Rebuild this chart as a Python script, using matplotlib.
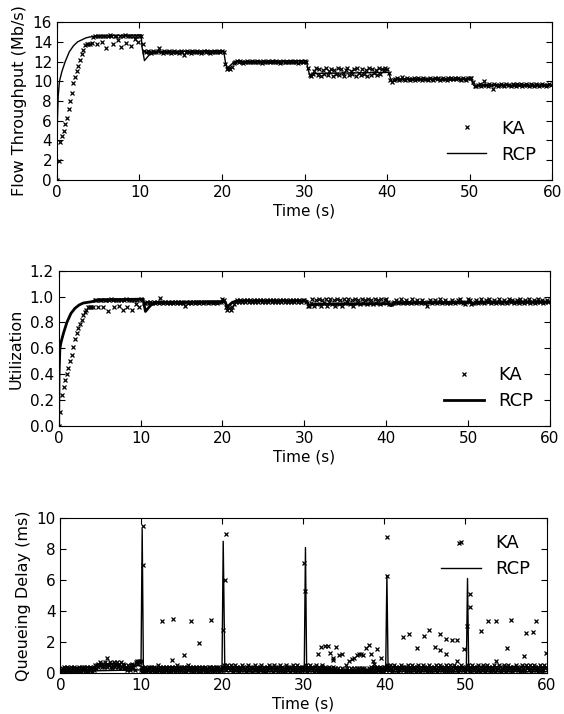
import numpy as np
import matplotlib
matplotlib.use("Agg")
import matplotlib.pyplot as plt

STEP = 0.2        # KA sampling interval for throughput / utilization (s)
DELAY_STEP = 0.1  # KA sampling interval for queueing delay (s)

# KA flow throughput, units of 0.1 Mb/s, one list per 10 s block
ka_thr_blocks = [
    [0, 19, 38, 45, 50, 57, 63, 72, 80, 88, 98, 104, 110, 116, 122, 128, 132, 137, 138, 138,
     138, 139, 145, 146, 138, 146, 146, 140, 146, 146, 134, 146, 147, 146, 138, 146, 146, 142, 146, 135,
     146, 147, 139, 146, 146, 136, 146, 143, 146, 140],
    [146, 146, 138, 131, 130, 131, 130, 129, 131, 130, 130, 131, 134, 130, 129, 131, 130, 130, 131, 129,
     130, 131, 130, 130, 129, 131, 130, 127, 130, 131, 130, 129, 131, 130, 130, 131, 130, 129, 130, 131,
     130, 131, 130, 129, 130, 131, 130, 130, 131, 130],
    [131, 130, 118, 112, 113, 112, 114, 119, 120, 121, 120, 121, 120, 119, 120, 121, 120, 120, 121, 120,
     120, 121, 120, 120, 119, 121, 120, 120, 121, 120, 121, 120, 120, 121, 120, 119, 120, 121, 120, 120,
     120, 121, 120, 120, 121, 120, 119, 120, 121, 120],
    [121, 120, 113, 106, 105, 107, 110, 113, 106, 112, 105, 111, 107, 113, 106, 110, 112, 105, 111, 107,
     113, 106, 112, 108, 105, 111, 113, 106, 110, 107, 112, 105, 113, 108, 106, 112, 107, 111, 105, 113,
     106, 112, 108, 111, 106, 113, 107, 112, 111, 113],
    [112, 108, 101, 99, 101, 102, 103, 101, 102, 104, 102, 101, 103, 102, 101, 102, 103, 101, 102, 103,
     102, 101, 103, 102, 102, 101, 103, 102, 101, 103, 102, 103, 101, 102, 103, 102, 101, 103, 102, 103,
     102, 103, 102, 103, 102, 101, 103, 102, 101, 103],
    [103, 103, 99, 95, 95, 96, 97, 95, 96, 100, 96, 95, 97, 96, 92, 97, 96, 95, 96, 97,
     96, 95, 97, 96, 96, 95, 97, 96, 95, 97, 96, 97, 95, 96, 97, 96, 95, 97, 96, 95,
     97, 96, 95, 96, 97, 96, 95, 96, 97, 96],
]

# RCP flow throughput (Mb/s)
rcp_thr_t = [0, 0.05, 0.15, 0.3, 0.6, 1.0, 1.5, 2.0, 2.5, 3.0, 3.5, 4.0, 5.0, 10.2, 10.3, 10.6, 11.5,
             20.2, 20.4, 20.6, 21.5, 30.2, 30.4, 30.6, 31.5, 40.2, 40.4, 40.6, 41.5,
             50.2, 50.4, 50.6, 51.5, 60]
rcp_thr_v = [0, 6, 8.5, 10, 11, 12, 13, 13.6, 14.0, 14.2, 14.4, 14.5, 14.6, 14.7, 13.5, 12.1, 13.0,
             13.1, 12.0, 11.3, 12.0, 12.1, 11.3, 10.7, 10.8, 10.9, 10.3, 10.0, 10.2,
             10.2, 9.7, 9.5, 9.6, 9.6]

# KA utilization, percent, one list per 10 s block
ka_util_blocks = [
    [0, 11, 24, 30, 36, 40, 45, 50, 55, 61, 67, 72, 76, 79, 82, 86, 88, 90, 92, 92,
     92, 92, 97, 97, 92, 97, 97, 92, 97, 97, 89, 97, 98, 97, 92, 97, 97, 93, 97, 90,
     97, 98, 92, 97, 97, 90, 97, 94, 97, 92],
    [98, 97, 95, 95, 96, 95, 96, 95, 96, 95, 96, 95, 99, 96, 95, 96, 95, 96, 95, 96,
     95, 96, 95, 96, 95, 96, 95, 93, 96, 95, 96, 95, 96, 95, 96, 96, 95, 96, 95, 96,
     96, 95, 96, 96, 95, 96, 96, 95, 96, 96],
    [98, 97, 92, 90, 91, 90, 92, 94, 96, 97, 96, 97, 96, 97, 96, 97, 96, 97, 96, 97,
     96, 97, 96, 97, 96, 97, 96, 97, 96, 97, 96, 97, 96, 97, 96, 97, 96, 97, 96, 97,
     96, 97, 96, 97, 96, 97, 96, 97, 96, 97],
    [97, 96, 93, 93, 95, 98, 93, 97, 94, 98, 93, 97, 95, 98, 93, 96, 98, 94, 97, 93,
     98, 94, 97, 93, 98, 95, 96, 98, 94, 97, 93, 98, 95, 97, 94, 98, 95, 97, 94, 98,
     95, 97, 94, 98, 95, 97, 94, 98, 95, 97],
    [98, 96, 94, 94, 95, 96, 97, 95, 96, 98, 95, 96, 97, 95, 96, 95, 98, 96, 95, 97,
     96, 95, 97, 96, 95, 93, 96, 97, 95, 96, 97, 95, 96, 98, 95, 96, 97, 95, 96, 95,
     97, 96, 95, 96, 97, 98, 96, 95, 94, 96],
    [98, 97, 94, 95, 96, 97, 95, 96, 98, 96, 95, 97, 96, 98, 95, 96, 97, 95, 96, 98,
     96, 95, 97, 96, 95, 98, 96, 97, 95, 96, 97, 95, 98, 96, 95, 97, 96, 98, 95, 96,
     97, 95, 96, 98, 96, 97, 95, 96, 97, 96],
]

# RCP utilization
rcp_util_t = [0, 0.05, 0.15, 0.3, 0.6, 1.0, 1.5, 2.0, 2.5, 3.0, 3.5, 4.0, 5.0, 10.3, 10.6, 11.2, 11.8,
              20.3, 20.6, 21.2, 21.7, 30.3, 30.6, 31.2, 40.3, 40.6, 41.2, 50.3, 50.6, 51.2, 60]
rcp_util_v = [0, 0.4, 0.6, 0.65, 0.72, 0.8, 0.87, 0.91, 0.935, 0.95, 0.955, 0.96, 0.975, 0.98, 0.885,
              0.93, 0.955, 0.96, 0.92, 0.955, 0.965, 0.965, 0.93, 0.94, 0.945, 0.93, 0.95,
              0.955, 0.94, 0.955, 0.96]

# KA queueing delay baseline, one digit per sample in units of 0.1 ms, one string per 10 s block
ka_delay_blocks = [
    "12314231423124132413" "23142314241324132431" "34253546576456475645"
    "57463574657456374635" "34253425364527686878",
    "24132413243142314231" "35241324132431423142" "31425314243142314253"
    "41324132431423142314" "23142431423143241324",
    "24534253425341325342" "31425342314253241342" "53241342531423142534"
    "24135243142531423145" "32413425314253241342",
    "34253142534231425314" "23142314213241321423" "12131213120121312013"
    "21312131232132131221" "23142314231423142314",
    "34253425314253423142" "53424314253142534231" "42531425342314253142"
    "34253142534231425314" "25314253423142534231",
    "34253142534231425314" "24531425342314253142" "35241324531425342314"
    "42534231425314253425" "31425342314253142534",
]

# KA delay samples off the baseline (s, ms)
ka_delay_extra_t = [5.7, 10.2, 10.25, 12.5, 13.8, 13.9, 15.3, 16.1, 17.1, 18.6, 20.1, 20.3, 20.4,
                    30.1, 30.2, 31.8, 32.2, 32.3, 32.7, 33.0, 33.3, 33.6, 33.7, 34.0, 34.4, 34.8,
                    35.2, 35.6, 36.0, 36.3, 36.6, 36.9, 37.1, 37.4, 37.7, 38.1, 38.4, 38.6, 38.7,
                    39.1, 39.6, 40.3, 40.35, 42.3, 43.05, 44.0, 44.9, 45.5, 46.2, 46.9, 46.9, 47.6,
                    47.6, 48.3, 49.0, 49.0, 49.2, 49.8, 50.2, 50.5, 50.5, 51.9, 52.8, 53.8, 53.8,
                    55.1, 55.6, 57.2, 57.5, 58.3, 58.7, 59.9]
ka_delay_extra_v = [1.0, 9.5, 7.0, 3.35, 0.82, 3.5, 1.15, 3.37, 1.95, 3.45, 2.8, 6.0, 9.0,
                    7.1, 5.3, 1.2, 1.7, 0.5, 1.75, 1.75, 1.3, 0.95, 0.85, 1.7, 1.15, 1.2,
                    0.5, 0.8, 0.9, 1.0, 1.15, 1.25, 1.2, 1.15, 1.6, 1.8, 1.2, 0.8, 0.6,
                    1.55, 0.95, 8.8, 6.25, 2.33, 2.5, 1.6, 2.4, 2.8, 1.65, 2.5, 1.5, 2.17,
                    1.2, 2.1, 2.1, 0.8, 8.38, 1.56, 3.03, 4.24, 5.1, 2.72, 3.37, 3.37, 0.77,
                    1.64, 3.45, 1.1, 2.6, 2.65, 3.37, 1.32]

# RCP queueing delay (ms)
rcp_delay_t = [0, 9.95, 10.1, 10.25, 19.95, 20.1, 20.3, 30.1, 30.25, 30.4, 40.15, 40.3, 40.45,
               50.1, 50.25, 50.4, 60]
rcp_delay_v = [0.1, 0.2, 9.3, 0.1, 0.15, 8.5, 0.1, 0.1, 8.1, 0.1, 0.1, 6.3, 0.1,
               0.1, 6.1, 0.1, 0.1]

ka_thr = np.concatenate(ka_thr_blocks) / 10.0
ka_util = np.concatenate(ka_util_blocks) / 100.0
t = np.arange(len(ka_thr)) * STEP
ka_delay = np.array([int(c) for c in "".join(ka_delay_blocks)]) / 10.0
td = np.arange(len(ka_delay)) * DELAY_STEP

plt.rcParams["font.family"] = "DejaVu Sans"
plt.rcParams["font.size"] = 11

fig = plt.figure(figsize=(5.64, 7.14), dpi=100)
ax1 = fig.add_axes([0.101, 0.748, 0.878, 0.221])
ax2 = fig.add_axes([0.104, 0.403, 0.871, 0.218])
ax3 = fig.add_axes([0.107, 0.0574, 0.862, 0.217])

kw = dict(marker="x", color="black", linestyle="none", markersize=3, markeredgewidth=0.9)

ax1.plot(t, ka_thr, label="KA", **kw)
ax1.plot(rcp_thr_t, rcp_thr_v, color="black", linewidth=1, label="RCP")
ax1.set_ylim(0, 16)
ax1.set_yticks(range(0, 17, 2))
ax1.set_ylabel("Flow Throughput (Mb/s)", fontsize=11.5)

ax2.plot(t, ka_util, label="KA", **kw)
ax2.plot(rcp_util_t, rcp_util_v, color="black", linewidth=2, label="RCP")
ax2.set_ylim(0, 1.2)
ax2.set_yticks(np.arange(0, 1.21, 0.2))
ax2.set_ylabel("Utilization", fontsize=11.5)

ax3.plot(np.concatenate([td, ka_delay_extra_t]), np.concatenate([ka_delay, ka_delay_extra_v]),
         label="KA", **kw)
ax3.plot(rcp_delay_t, rcp_delay_v, color="black", linewidth=1, label="RCP")
ax3.set_ylim(0, 10)
ax3.set_yticks(range(0, 11, 2))
ax3.set_ylabel("Queueing Delay (ms)", fontsize=11.5)

for ax, loc in [(ax1, "lower right"), (ax2, "lower right"), (ax3, "upper right")]:
    ax.set_xlim(0, 60)
    ax.set_xticks(range(0, 61, 10))
    ax.set_xlabel("Time (s)", fontsize=11, labelpad=2.5)
    ax.tick_params(direction="in", top=True, right=True, length=4, width=0.8, labelsize=11)
    ax.legend(loc=loc, frameon=False, numpoints=1, fontsize=13, handlelength=2.2,
              labelspacing=0.45)

fig.savefig("out.png", dpi=100)
